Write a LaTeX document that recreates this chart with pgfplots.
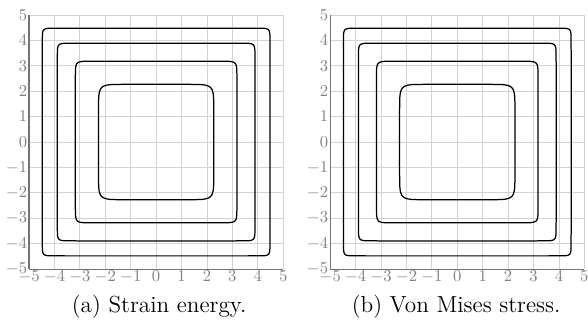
\documentclass[border=0pt]{standalone}
\usepackage{pgfplots}
\pgfplotsset{compat=1.18}
\usepackage{pgfplotstable}

\pgfplotstableread{
x y
2.270 0.000
2.270 1.135
2.267 1.589
2.257 1.816
2.241 1.930
2.208 2.043
2.185 2.088
2.143 2.143
2.088 2.185
2.043 2.208
1.930 2.241
1.816 2.257
1.589 2.267
1.135 2.270
0.000 2.270
-1.135 2.270
-1.589 2.267
-1.816 2.257
-1.930 2.241
-2.043 2.208
-2.088 2.185
-2.143 2.143
-2.185 2.088
-2.208 2.043
-2.241 1.930
-2.257 1.816
-2.267 1.589
-2.270 1.135
-2.270 0.000
-2.270 -1.135
-2.267 -1.589
-2.257 -1.816
-2.241 -1.930
-2.208 -2.043
-2.185 -2.088
-2.143 -2.143
-2.088 -2.185
-2.043 -2.208
-1.930 -2.241
-1.816 -2.257
-1.589 -2.267
-1.135 -2.270
0.000 -2.270
1.135 -2.270
1.589 -2.267
1.816 -2.257
1.930 -2.241
2.043 -2.208
2.088 -2.185
2.143 -2.143
2.185 -2.088
2.208 -2.043
2.241 -1.930
2.257 -1.816
2.267 -1.589
2.270 -1.135
2.270 0.000
}\curveA

\pgfplotstableread{
x y
3.180 0.000
3.180 2.544
3.174 2.862
3.164 2.957
3.149 3.021
3.137 3.053
3.118 3.085
3.102 3.102
3.085 3.118
3.053 3.137
3.021 3.149
2.957 3.164
2.862 3.174
2.544 3.180
0.000 3.180
-2.544 3.180
-2.862 3.174
-2.957 3.164
-3.021 3.149
-3.053 3.137
-3.085 3.118
-3.102 3.102
-3.118 3.085
-3.137 3.053
-3.149 3.021
-3.164 2.957
-3.174 2.862
-3.180 2.544
-3.180 0.000
-3.180 -2.544
-3.174 -2.862
-3.164 -2.957
-3.149 -3.021
-3.137 -3.053
-3.118 -3.085
-3.102 -3.102
-3.085 -3.118
-3.053 -3.137
-3.021 -3.149
-2.957 -3.164
-2.862 -3.174
-2.544 -3.180
0.000 -3.180
2.544 -3.180
2.862 -3.174
2.957 -3.164
3.021 -3.149
3.053 -3.137
3.085 -3.118
3.102 -3.102
3.118 -3.085
3.137 -3.053
3.149 -3.021
3.164 -2.957
3.174 -2.862
3.180 -2.544
3.180 0.000
}\curveB

\pgfplotstableread{
x y
3.890 0.000
3.890 3.112
3.885 3.618
3.877 3.696
3.869 3.734
3.856 3.773
3.846 3.793
3.823 3.823
3.793 3.846
3.773 3.856
3.734 3.869
3.696 3.877
3.618 3.885
3.112 3.890
0.000 3.890
-3.112 3.890
-3.618 3.885
-3.696 3.877
-3.734 3.869
-3.773 3.856
-3.793 3.846
-3.823 3.823
-3.846 3.793
-3.856 3.773
-3.869 3.734
-3.877 3.696
-3.885 3.618
-3.890 3.112
-3.890 0.000
-3.890 -3.112
-3.885 -3.618
-3.877 -3.696
-3.869 -3.734
-3.856 -3.773
-3.846 -3.793
-3.823 -3.823
-3.793 -3.846
-3.773 -3.856
-3.734 -3.869
-3.696 -3.877
-3.618 -3.885
-3.112 -3.890
0.000 -3.890
3.112 -3.890
3.618 -3.885
3.696 -3.877
3.734 -3.869
3.773 -3.856
3.793 -3.846
3.823 -3.823
3.846 -3.793
3.856 -3.773
3.869 -3.734
3.877 -3.696
3.885 -3.618
3.890 -3.112
3.890 0.000
}\curveC

\pgfplotstableread{
x y
4.480 0.000
4.480 3.584
4.476 4.211
4.468 4.301
4.458 4.346
4.450 4.368
4.440 4.390
4.418 4.418
4.390 4.440
4.368 4.450
4.346 4.458
4.301 4.468
4.211 4.476
3.584 4.480
0.000 4.480
-3.584 4.480
-4.211 4.476
-4.301 4.468
-4.346 4.458
-4.368 4.450
-4.390 4.440
-4.418 4.418
-4.440 4.390
-4.450 4.368
-4.458 4.346
-4.468 4.301
-4.476 4.211
-4.480 3.584
-4.480 0.000
-4.480 -3.584
-4.476 -4.211
-4.468 -4.301
-4.458 -4.346
-4.450 -4.368
-4.440 -4.390
-4.418 -4.418
-4.390 -4.440
-4.368 -4.450
-4.346 -4.458
-4.301 -4.468
-4.211 -4.476
-3.584 -4.480
0.000 -4.480
3.584 -4.480
4.211 -4.476
4.301 -4.468
4.346 -4.458
4.368 -4.450
4.390 -4.440
4.418 -4.418
4.440 -4.390
4.450 -4.368
4.458 -4.346
4.468 -4.301
4.476 -4.211
4.480 -3.584
4.480 0.000
}\curveD

\pgfplotsset{
  contourax/.style={
    scale only axis,
    width=153pt, height=153pt,
    xmin=-5, xmax=5, ymin=-5, ymax=5,
    xtick={-5,-4,...,5}, ytick={-5,-4,...,5},
    grid=major,
    major grid style={draw=gray!35, line width=0.5pt},
    axis lines=left,
    axis line style={-, draw=black!55, line width=0.7pt},
    major tick length=0pt,
    tick label style={text=gray, font=\fontsize{10}{12}\selectfont},
    xticklabel style={inner sep=1pt},
    yticklabel style={inner sep=1pt},
    anchor=south west,
  },
  curve/.style={black, line width=0.75pt, no marks},
}

\begin{document}
\begin{tikzpicture}
\useasboundingbox (0,0) rectangle (354pt,194pt);
\begin{axis}[contourax, at={(17.5pt,32pt)}]
  \addplot[curve] table[x=x,y=y] {\curveA};
  \addplot[curve] table[x=x,y=y] {\curveB};
  \addplot[curve] table[x=x,y=y] {\curveC};
  \addplot[curve] table[x=x,y=y] {\curveD};
\end{axis}
\begin{axis}[contourax, at={(198.8pt,32pt)}]
  \addplot[curve] table[x=x,y=y] {\curveA};
  \addplot[curve] table[x=x,y=y] {\curveB};
  \addplot[curve] table[x=x,y=y] {\curveC};
  \addplot[curve] table[x=x,y=y] {\curveD};
\end{axis}
\node[font=\fontsize{14}{16}\selectfont] at (95.8pt,9.5pt) {(a) Strain energy.};
\node[font=\fontsize{14}{16}\selectfont] at (274.6pt,9.5pt) {(b) Von Mises stress.};
\end{tikzpicture}
\end{document}
